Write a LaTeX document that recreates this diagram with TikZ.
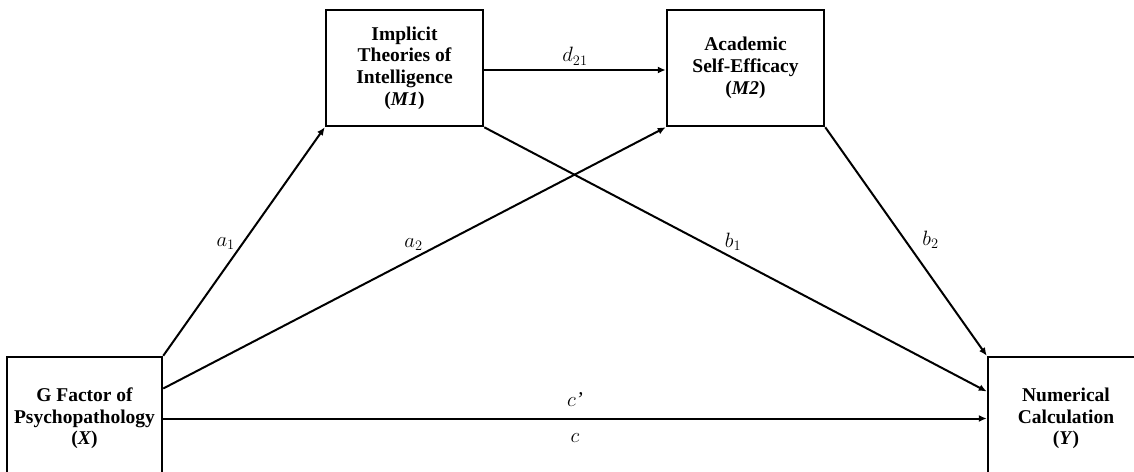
\documentclass[tikz,border=0pt]{standalone}
\usepackage{fontspec}
\setmainfont{Liberation Serif}
\usetikzlibrary{arrows.meta}

\begin{document}
\begin{tikzpicture}[x=1pt,y=-1pt,
  var/.style={draw,line width=2.5pt,align=center,inner sep=2pt,
    font=\bfseries\fontsize{19.5}{21.7}\selectfont},
  effect/.style={line width=2pt,-{Latex[length=8pt,width=7pt]}},
  coef/.style={inner sep=1pt,font=\fontsize{21}{23}\selectfont}]
\clip (0,0) rectangle (1134,471);

\node[var,minimum width=155pt,minimum height=123pt] (X) at (84.5,418.5)
  {G Factor of\\Psychopathology\\(\textit{X})};
\node[var,minimum width=157pt,minimum height=116pt] (M1) at (404.5,68)
  {Implicit\\Theories of\\Intelligence\\(\textit{M1})};
\node[var,minimum width=157pt,minimum height=116pt] (M2) at (745.5,68)
  {Academic\\Self-Efficacy\\(\textit{M2})};
\node[var,minimum width=156pt,minimum height=123pt] (Y) at (1066,418.5)
  {Numerical\\Calculation\\(\textit{Y})};

\draw[effect] (X.north east) -- node[coef,pos=.455,above left=0pt] {$a_1$} (M1.south west);
\draw[effect] ([yshift=30pt]X.east) -- node[coef,pos=.52,above left=0pt] {$a_2$} (M2.south west);
\draw[effect] ([yshift=-2pt]M1.east) -- node[coef,midway,above=3pt] {$d_{21}$} ([yshift=-2pt]M2.west);
\draw[effect] (M1.south east) -- node[coef,pos=.475,above right=0pt] {$b_1$} ([yshift=27pt]Y.west);
\draw[effect] (M2.south east) -- node[coef,pos=.54,anchor=south west,xshift=8pt] {$b_2$} (Y.north west);
\draw[effect] (X.east) -- node[coef,midway,above=10pt] {$c$\textit{’}}
  node[coef,midway,below=13pt] {$c$} (Y.west);
\end{tikzpicture}
\end{document}
